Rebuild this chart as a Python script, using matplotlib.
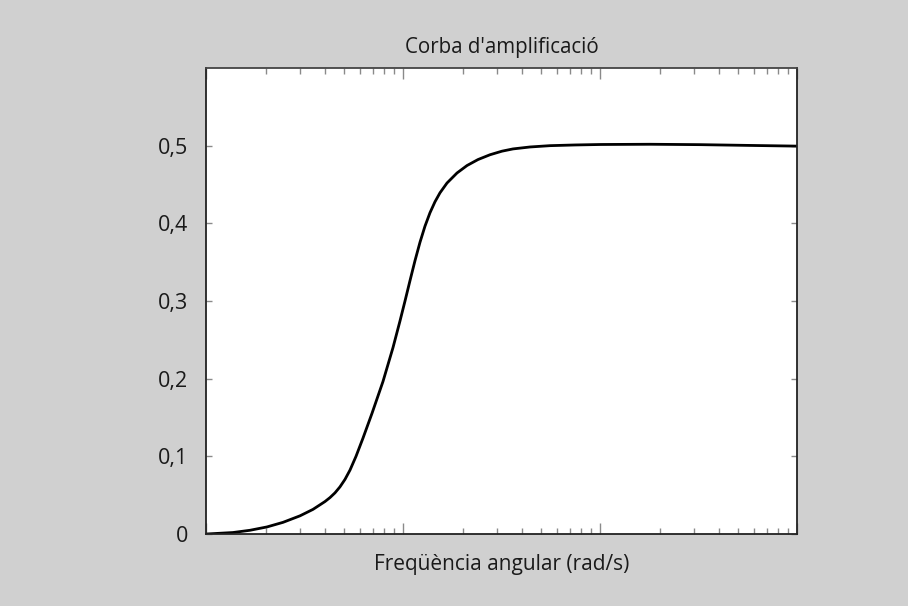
import matplotlib
matplotlib.use("Agg")
import matplotlib.pyplot as plt
from matplotlib.ticker import LogLocator, NullFormatter, FuncFormatter

# Amplitude response sampled along the angular frequency axis (rad/s)
freq = [0.100, 0.1363, 0.1663, 0.2028, 0.2445, 0.2983, 0.3472, 0.3995, 0.4236,
        0.4491, 0.4760, 0.5047, 0.5352, 0.5741, 0.6228, 0.6920, 0.7868, 0.8846,
        0.9598, 1.0177, 1.0790, 1.1439, 1.2130, 1.2855, 1.3630, 1.4454, 1.5322,
        1.6630, 1.8690, 2.1010, 2.3885, 2.749, 3.162, 3.596, 4.386, 5.541, 7.425,
        10.0, 17.84, 32.0, 57.4, 100.0]
amplitude = [0.0, 0.0019, 0.0048, 0.0091, 0.0150, 0.0234, 0.0317, 0.0418, 0.0469,
             0.0530, 0.0607, 0.0703, 0.0823, 0.1000, 0.1234, 0.1553, 0.1963, 0.2400,
             0.2742, 0.2999, 0.3262, 0.3519, 0.3757, 0.3963, 0.4136, 0.4278, 0.4393,
             0.4519, 0.4648, 0.4744, 0.4821, 0.4883, 0.4929, 0.4958, 0.4983, 0.5000,
             0.5009, 0.5015, 0.5018, 0.5013, 0.5003, 0.4994]

yticks = [0, 0.1, 0.2, 0.3, 0.4, 0.5]
title = "Corba d'amplificació"
xlabel = "Freqüència angular (rad/s)"

plt.rcParams['font.family'] = ['Open Sans', 'DejaVu Sans']

bg = '#d0d0d0'
fig = plt.figure(figsize=(9.08, 6.06), dpi=100, facecolor=bg)
ax = fig.add_axes([0.2274, 0.1188, 0.6509, 0.7690])
ax.set_facecolor('white')

ax.plot(freq, amplitude, color='black', lw=2.0, solid_joinstyle='round',
        solid_capstyle='round')

ax.set_xscale('log')
ax.set_xlim(0.1, 100)
ax.set_ylim(0, 0.6)

ax.xaxis.set_major_locator(LogLocator(base=10, numticks=10))
ax.xaxis.set_minor_locator(LogLocator(base=10, subs=range(2, 10), numticks=20))
ax.xaxis.set_major_formatter(NullFormatter())
ax.xaxis.set_minor_formatter(NullFormatter())

ax.set_yticks(yticks)
ax.yaxis.set_major_formatter(FuncFormatter(
    lambda v, p: '0' if v == 0 else f'{v:.1f}'.replace('.', ',')))

tick_col = '#8a8a8a'
ax.tick_params(axis='x', which='major', direction='in', length=8, width=1.0,
               color=tick_col, top=True, bottom=True)
ax.tick_params(axis='x', which='minor', direction='in', length=4, width=1.0,
               color=tick_col, top=True, bottom=True)
ax.tick_params(axis='y', which='major', direction='in', length=4, width=1.0,
               color=tick_col, left=True, right=True, pad=13,
               labelsize=15.5, labelcolor='#1a1a1a')

for side in ['left', 'bottom', 'right', 'top']:
    ax.spines[side].set_color('#222222')
    ax.spines[side].set_linewidth(1.3)
ax.spines['top'].set_color('#444444')

ax.set_title(title, fontsize=14.8, color='#1a1a1a', pad=11)
ax.set_xlabel(xlabel, fontsize=15, color='#1a1a1a', labelpad=11)

fig.savefig('out.png', dpi=100, facecolor=bg)
